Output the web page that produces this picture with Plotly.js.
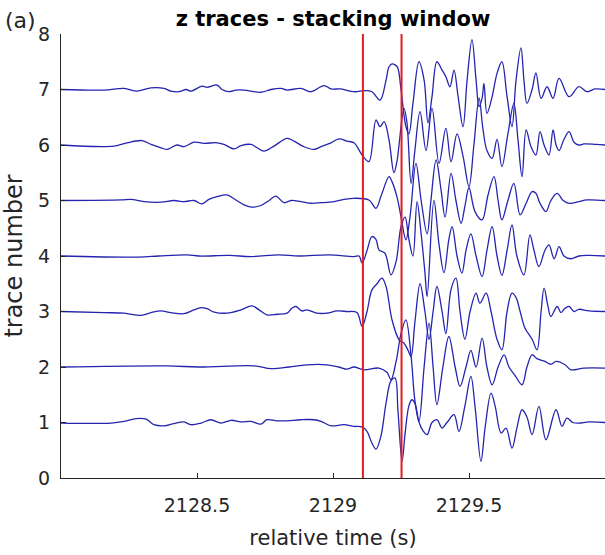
<!DOCTYPE html>
<html>
<head>
<meta charset="utf-8">
<script src="https://cdn.plot.ly/plotly-3.0.1.min.js"></script>
<style>html,body{margin:0;padding:0;background:#fff;}#chart{width:605px;height:555px;}</style>
</head>
<body>
<div id="chart"></div>
<script>
// Each trace: [relative time (s), amplitude offset from its trace number]
const trace1 = [[2128.0,-0.01],[2128.184,-0.01],[2128.232,0.02],[2128.276,0.07],[2128.313,0.06],[2128.342,-0.04],[2128.379,-0.06],[2128.415,-0.02],[2128.452,0.01],[2128.478,-0.04],[2128.515,-0.01],[2128.551,0.05],[2128.588,-0.01],[2128.625,0.04],[2128.662,0.01],[2128.699,0.02],[2128.735,-0.03],[2128.757,0.05],[2128.794,0.03],[2128.831,0.03],[2128.882,0.05],[2128.930,0.05],[2128.956,0.02],[2128.993,-0.06],[2129.040,-0.04],[2129.077,-0.07],[2129.107,-0.08],[2129.125,-0.16],[2129.143,-0.37],[2129.158,-0.48],[2129.176,-0.25],[2129.195,0.35],[2129.213,0.75],[2129.228,0.8],[2129.239,0.2],[2129.254,-0.7],[2129.265,-0.2],[2129.279,0.3],[2129.290,0.41],[2129.301,0.35],[2129.316,0.01],[2129.331,-0.15],[2129.346,-0.22],[2129.364,0.0],[2129.382,0.05],[2129.401,-0.1],[2129.419,0.0],[2129.445,0.14],[2129.463,-0.16],[2129.485,0.3],[2129.507,0.83],[2129.522,0.3],[2129.544,-0.7],[2129.559,-0.1],[2129.581,0.53],[2129.596,0.3],[2129.618,-0.19],[2129.636,-0.1],[2129.658,-0.46],[2129.676,-0.1],[2129.695,0.23],[2129.713,0.1],[2129.732,-0.22],[2129.757,0.29],[2129.783,-0.31],[2129.820,0.23],[2129.842,-0.07],[2129.860,0.08],[2129.882,0.0],[2129.904,-0.01],[2129.941,0.01],[2130.0,0]];
const trace2 = [[2128.0,0],[2128.390,0.02],[2128.507,0],[2128.710,0.02],[2128.772,-0.03],[2128.838,0],[2128.904,0.04],[2128.978,0.04],[2129.022,0],[2129.051,-0.04],[2129.077,0],[2129.114,-0.05],[2129.169,-0.02],[2129.199,-0.1],[2129.213,-0.23],[2129.232,0.1],[2129.250,0.6],[2129.268,0.85],[2129.287,0.2],[2129.301,-0.6],[2129.316,-0.98],[2129.335,0.0],[2129.353,0.79],[2129.368,0.0],[2129.382,-0.68],[2129.404,0.0],[2129.426,0.55],[2129.449,0.0],[2129.467,-0.35],[2129.489,0.0],[2129.507,0.3],[2129.526,0.0],[2129.548,0.52],[2129.566,0.0],[2129.585,-0.32],[2129.607,0.0],[2129.629,0.22],[2129.647,0.0],[2129.669,-0.15],[2129.695,-0.32],[2129.713,0.0],[2129.732,0.22],[2129.750,0.15],[2129.779,0.1],[2129.801,0.05],[2129.820,0.1],[2129.853,0.04],[2129.875,-0.05],[2129.923,-0.02],[2130.0,-0.02]];
const trace3 = [[2128.0,0],[2128.158,-0.02],[2128.232,-0.03],[2128.294,-0.07],[2128.331,-0.02],[2128.368,0.01],[2128.404,-0.02],[2128.452,-0.04],[2128.489,0.03],[2128.515,0.07],[2128.537,0.05],[2128.563,-0.01],[2128.610,-0.03],[2128.662,0.03],[2128.702,0.1],[2128.728,0.03],[2128.757,-0.06],[2128.794,-0.05],[2128.831,-0.03],[2128.849,0.06],[2128.864,0.09],[2128.886,0.01],[2128.904,0.03],[2128.941,-0.03],[2128.978,-0.03],[2129.015,0.01],[2129.051,0],[2129.088,-0.02],[2129.107,-0.27],[2129.125,0.0],[2129.143,0.39],[2129.162,0.5],[2129.180,0.6],[2129.195,0.45],[2129.217,-0.15],[2129.243,-0.51],[2129.261,-0.57],[2129.276,-0.7],[2129.287,-0.81],[2129.301,-0.2],[2129.320,0.5],[2129.338,0.0],[2129.353,-0.5],[2129.368,0.0],[2129.382,0.45],[2129.401,0.0],[2129.415,-0.4],[2129.434,0.4],[2129.452,0.6],[2129.467,0.0],[2129.485,-0.5],[2129.504,0.0],[2129.526,0.33],[2129.540,0.15],[2129.563,0.33],[2129.581,0.0],[2129.603,-0.5],[2129.621,-0.69],[2129.640,0.0],[2129.658,0.33],[2129.673,0.25],[2129.688,0.0],[2129.706,-0.3],[2129.732,-0.5],[2129.750,-0.69],[2129.765,0.0],[2129.776,0.42],[2129.790,0.1],[2129.801,-0.09],[2129.824,0.09],[2129.838,-0.02],[2129.853,0.06],[2129.868,0.09],[2129.886,0.0],[2129.904,0.04],[2129.941,0.01],[2130.0,0]];
const trace4 = [[2128.0,0],[2128.287,-0.02],[2128.360,0],[2128.463,0.02],[2128.507,0],[2128.618,0.01],[2128.699,-0.01],[2128.801,0.02],[2128.875,0],[2128.985,0.02],[2129.077,-0.01],[2129.096,0],[2129.107,-0.13],[2129.125,0.1],[2129.143,0.35],[2129.158,0.3],[2129.169,0.11],[2129.191,0.05],[2129.213,-0.34],[2129.232,-0.1],[2129.250,0.53],[2129.265,0.7],[2129.279,0.3],[2129.294,0.0],[2129.309,0.98],[2129.324,0.4],[2129.338,-0.3],[2129.346,-0.73],[2129.371,1.0],[2129.390,0.2],[2129.408,-0.3],[2129.426,0.3],[2129.438,0.53],[2129.456,0.0],[2129.474,-0.31],[2129.489,0.1],[2129.507,0.4],[2129.526,0.0],[2129.548,-0.37],[2129.566,0.1],[2129.585,0.53],[2129.603,0.0],[2129.621,-0.35],[2129.640,0.1],[2129.658,0.56],[2129.676,0.0],[2129.702,-0.34],[2129.724,0.38],[2129.739,0.1],[2129.757,-0.19],[2129.779,0.1],[2129.794,0.2],[2129.813,-0.05],[2129.831,0.17],[2129.849,0.0],[2129.875,-0.05],[2129.904,0.0],[2129.941,0.01],[2130.0,0]];
const trace5 = [[2128.0,0],[2128.221,0.01],[2128.257,0.02],[2128.305,-0.02],[2128.368,-0.03],[2128.415,0],[2128.452,-0.02],[2128.489,0],[2128.518,-0.06],[2128.544,0.02],[2128.574,0.07],[2128.610,0.1],[2128.643,0.01],[2128.673,-0.08],[2128.699,-0.12],[2128.735,-0.09],[2128.765,0],[2128.790,0.08],[2128.820,-0.04],[2128.846,0],[2128.882,-0.02],[2128.919,-0.05],[2128.956,-0.04],[2129.004,-0.02],[2129.040,0.02],[2129.077,0.04],[2129.132,0.01],[2129.158,-0.14],[2129.176,0.07],[2129.206,0.43],[2129.217,0.34],[2129.235,0.07],[2129.250,-0.29],[2129.268,-0.71],[2129.283,-0.3],[2129.305,0.67],[2129.324,0.0],[2129.346,-0.6],[2129.360,0.0],[2129.379,0.73],[2129.397,0.2],[2129.412,-0.3],[2129.434,0.49],[2129.452,0.0],[2129.471,-0.41],[2129.485,-0.1],[2129.500,0.23],[2129.522,-0.2],[2129.548,-0.35],[2129.570,0.1],[2129.592,0.43],[2129.607,0.0],[2129.621,-0.35],[2129.643,0.0],[2129.665,0.31],[2129.688,-0.26],[2129.710,-0.05],[2129.732,0.16],[2129.746,0.13],[2129.761,-0.05],[2129.783,-0.2],[2129.801,0.0],[2129.824,0.13],[2129.846,0.0],[2129.868,-0.05],[2129.904,-0.02],[2129.934,0.01],[2130.0,0]];
const trace6 = [[2128.0,0],[2128.195,-0.02],[2128.243,0.04],[2128.298,0.08],[2128.331,0.01],[2128.368,-0.05],[2128.390,-0.08],[2128.426,0],[2128.452,-0.03],[2128.489,0.05],[2128.526,0.03],[2128.574,0.04],[2128.599,0.01],[2128.636,-0.07],[2128.662,-0.01],[2128.699,0.01],[2128.721,-0.05],[2128.746,-0.11],[2128.783,-0.02],[2128.831,0.12],[2128.857,0.07],[2128.893,-0.03],[2128.930,-0.08],[2128.956,-0.03],[2128.993,0.04],[2129.022,0.11],[2129.051,0.07],[2129.077,0.04],[2129.107,-0.18],[2129.132,-0.3],[2129.158,0.45],[2129.173,0.33],[2129.188,0.42],[2129.206,0.09],[2129.224,-0.5],[2129.235,-0.3],[2129.261,0.66],[2129.272,0.4],[2129.287,-0.69],[2129.301,-0.1],[2129.320,0.6],[2129.342,-0.1],[2129.364,0.66],[2129.390,-0.33],[2129.415,0.3],[2129.434,-0.3],[2129.456,0.2],[2129.478,-0.2],[2129.500,-0.75],[2129.518,0.0],[2129.537,0.85],[2129.551,0.3],[2129.566,-0.1],[2129.585,-0.24],[2129.603,0.1],[2129.621,-0.39],[2129.643,0.2],[2129.665,0.75],[2129.680,0.1],[2129.695,-0.57],[2129.710,0.27],[2129.728,-0.03],[2129.746,-0.18],[2129.761,0.24],[2129.776,0.0],[2129.794,-0.18],[2129.809,0.27],[2129.820,0.0],[2129.831,-0.1],[2129.849,0.1],[2129.868,0.24],[2129.886,0.05],[2129.904,0.0],[2129.923,0.02],[2129.967,0.01],[2130.0,0]];
const trace7 = [[2128.0,0],[2128.158,-0.01],[2128.232,0.02],[2128.279,-0.03],[2128.331,0.03],[2128.379,0.02],[2128.404,-0.03],[2128.434,-0.04],[2128.460,0],[2128.478,-0.03],[2128.518,0.06],[2128.537,0.04],[2128.574,0.08],[2128.592,0],[2128.618,-0.04],[2128.643,-0.01],[2128.673,-0.01],[2128.735,-0.05],[2128.772,0],[2128.809,0.02],[2128.831,-0.01],[2128.882,0.02],[2128.919,-0.04],[2128.967,0.07],[2128.993,0.01],[2129.029,0.01],[2129.077,-0.04],[2129.118,-0.02],[2129.143,-0.04],[2129.173,-0.19],[2129.195,0.17],[2129.206,0.41],[2129.217,0.46],[2129.232,0.43],[2129.239,0.38],[2129.250,0],[2129.268,-0.67],[2129.279,-0.8],[2129.294,-0.25],[2129.316,0.5],[2129.335,0.17],[2129.349,-0.6],[2129.364,-0.13],[2129.382,0.5],[2129.401,0.35],[2129.415,0.23],[2129.430,0.05],[2129.445,0.35],[2129.460,-0.13],[2129.478,-0.67],[2129.493,0.17],[2129.511,0.9],[2129.526,0.17],[2129.537,-0.31],[2129.548,-0.16],[2129.555,0.11],[2129.566,-0.43],[2129.585,-0.13],[2129.603,0.29],[2129.621,0.5],[2129.640,-0.13],[2129.658,-0.67],[2129.673,0.17],[2129.691,0.75],[2129.702,0.17],[2129.713,-0.25],[2129.732,0],[2129.746,0.3],[2129.765,-0.16],[2129.787,0.05],[2129.809,-0.16],[2129.831,0.2],[2129.868,-0.13],[2129.904,0.05],[2129.934,-0.04],[2129.963,0.01],[2130.0,0]];

const traceNumbers = [1, 2, 3, 4, 5, 6, 7];
const allTraces = [trace1, trace2, trace3, trace4, trace5, trace6, trace7];
const stackWindow = [2129.110, 2129.252];
const xTickVals = [2128.5, 2129, 2129.5];
const xTickText = ['2128.5', '2129', '2129.5'];
const yTickVals = [0, 1, 2, 3, 4, 5, 6, 7, 8];
const xRange = [2128, 2130];
const yRange = [0, 8];

const data = [];
allTraces.forEach((tr, i) => {
  data.push({
    type: 'scatter', mode: 'lines',
    x: tr.map(p => p[0]),
    y: tr.map(p => p[1] + traceNumbers[i]),
    line: {color: 'rgb(36,36,176)', width: 1.3, shape: 'spline', smoothing: 1},
    hoverinfo: 'skip'
  });
});
stackWindow.forEach(t => {
  data.push({
    type: 'scatter', mode: 'lines',
    x: [t, t], y: yRange,
    line: {color: 'rgb(226,28,32)', width: 2},
    hoverinfo: 'skip'
  });
});

const txt = '#262626';
const layout = {
  width: 605, height: 555,
  margin: {l: 61, r: 0, t: 34, b: 77},
  paper_bgcolor: '#fff', plot_bgcolor: '#fff',
  showlegend: false,
  font: {family: 'DejaVu Sans, Arial, sans-serif', size: 19, color: txt},
  title: {
    text: '<b>z traces - stacking window</b>',
    font: {family: 'DejaVu Sans, Arial, sans-serif', size: 21, color: '#000'},
    xref: 'paper', x: 0.5, xanchor: 'center',
    yref: 'container', y: 1 - 19/555, yanchor: 'middle'
  },
  xaxis: {
    range: xRange, tickmode: 'array', tickvals: xTickVals, ticktext: xTickText,
    ticks: 'inside', ticklen: 5, tickwidth: 1, tickcolor: txt,
    showline: true, linecolor: txt, linewidth: 1, mirror: false,
    showgrid: false, zeroline: false, ticklabelstandoff: 10,
    tickfont: {size: 19, color: txt},
    title: {text: 'relative time (s)', font: {size: 21, color: txt}, standoff: 15}
  },
  yaxis: {
    range: yRange, tickmode: 'array', tickvals: yTickVals,
    ticks: 'inside', ticklen: 5, tickwidth: 1, tickcolor: txt,
    showline: true, linecolor: txt, linewidth: 1, mirror: false,
    showgrid: false, zeroline: false, ticklabelstandoff: 6,
    tickfont: {size: 19, color: txt},
    title: {text: 'trace number', font: {size: 24, color: txt}, standoff: 8}
  },
  annotations: [{
    text: '(a)', xref: 'paper', yref: 'paper',
    x: -0.075, y: 1.03, xanchor: 'center', yanchor: 'middle',
    showarrow: false, font: {size: 22, color: txt}
  }]
};

Plotly.newPlot('chart', data, layout, {displayModeBar: false, staticPlot: true});
</script>
</body>
</html>
